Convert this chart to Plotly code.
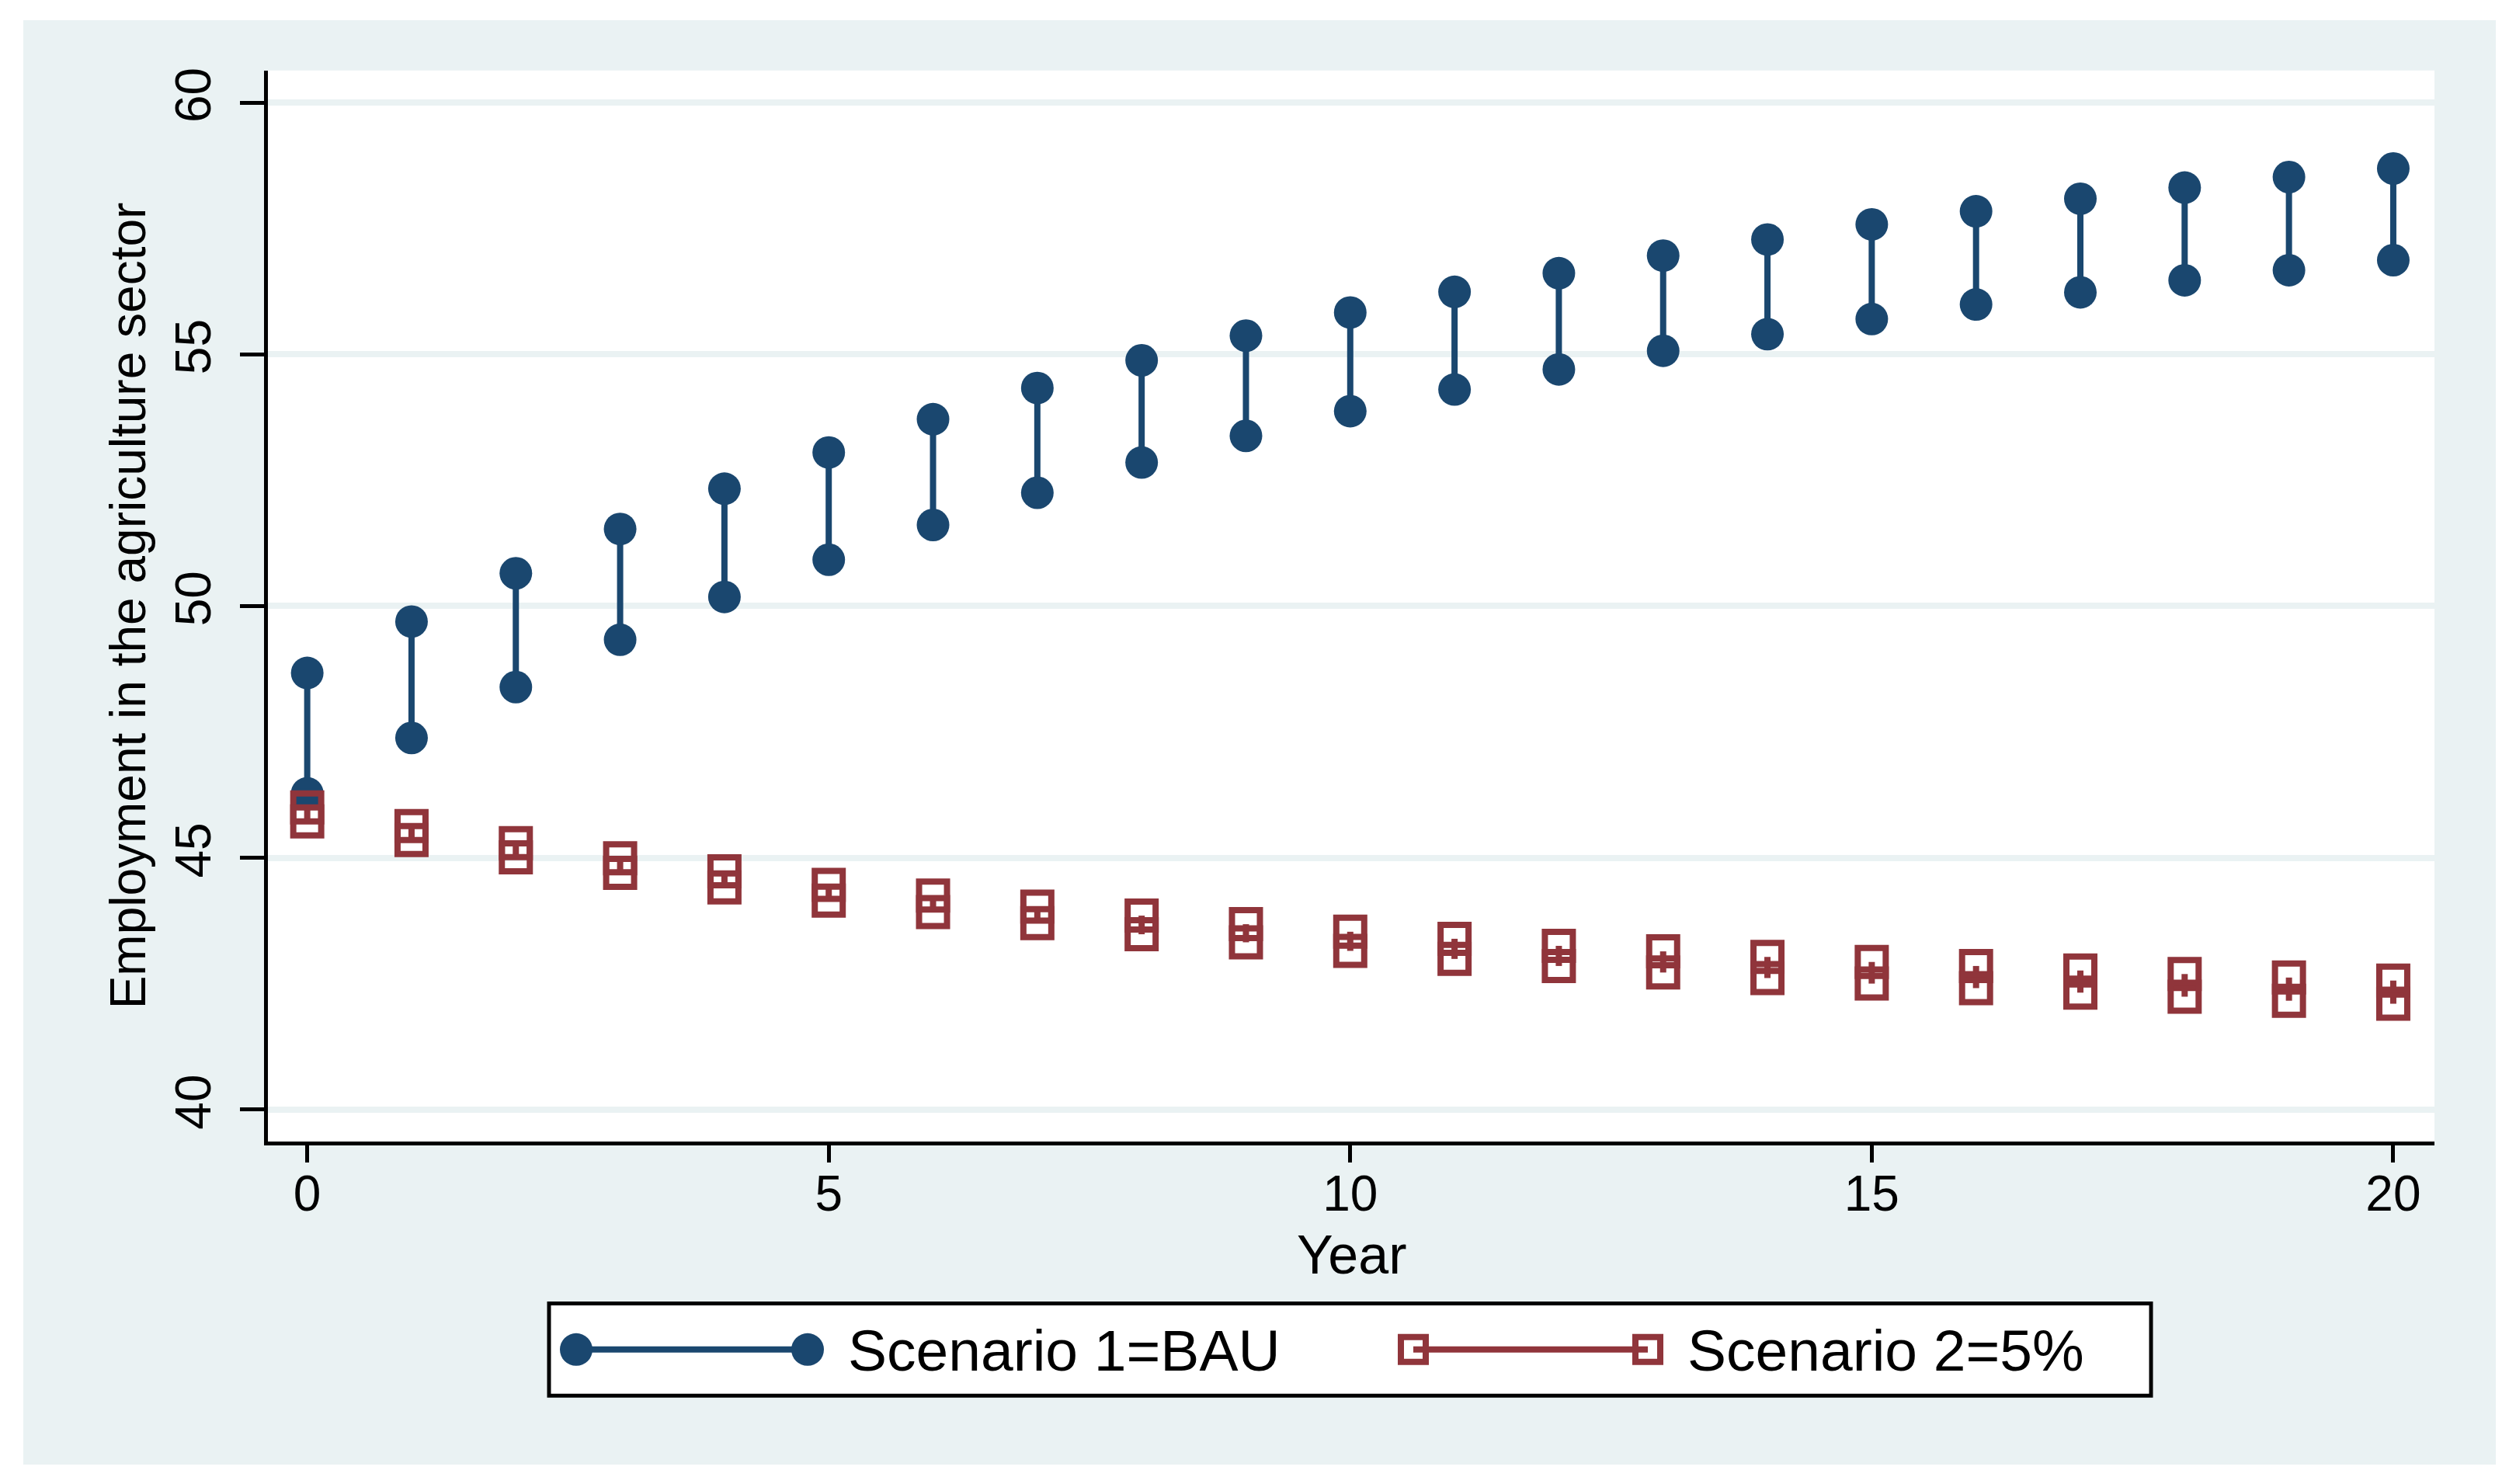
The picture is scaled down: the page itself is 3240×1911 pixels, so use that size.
import plotly.graph_objects as go

# ---------------- data ----------------
years = list(range(21))
bau_upper = [48.67, 49.69, 50.65, 51.53, 52.33, 53.05, 53.71, 54.33, 54.88, 55.37, 55.83,
             56.24, 56.61, 56.96, 57.28, 57.58, 57.84, 58.09, 58.31, 58.52, 58.69]
bau_lower = [46.28, 47.38, 48.39, 49.33, 50.18, 50.92, 51.61, 52.25, 52.85, 53.38, 53.87,
             54.30, 54.70, 55.07, 55.40, 55.70, 55.99, 56.23, 56.47, 56.67, 56.87]
s2_upper = [46.00, 45.63, 45.29, 44.99, 44.73, 44.46, 44.25, 44.03, 43.85, 43.68, 43.53,
            43.39, 43.25, 43.14, 43.03, 42.93, 42.85, 42.76, 42.69, 42.62, 42.56]
s2_lower = [45.72, 45.35, 45.01, 44.70, 44.41, 44.15, 43.92, 43.70, 43.48, 43.32, 43.15,
            42.99, 42.85, 42.72, 42.61, 42.50, 42.41, 42.32, 42.24, 42.16, 42.10]
series_names = ["Scenario 1=BAU", "Scenario 2=5%"]
x_ticks = [0, 5, 10, 15, 20]
y_ticks = [40, 45, 50, 55, 60]
x_title = "Year"
y_title = "Employment in the agriculture sector"

# ---------------- style ----------------
W, H = 3240, 1911
BLUE = "#1A476F"
RED = "#90353B"
BG = "#EAF2F3"
FONT = "Liberation Sans, Arial, sans-serif"


def fx(px):
    return px / W


def fy(py):
    return 1 - py / H


# plot area in pixels
PL, PR, PT, PB = 345, 3135, 87, 1469
# legend box in pixels
LL, LR, LT, LB = 707, 2770, 1678, 1797


def ranges(xs, up, lo):
    X, Y = [], []
    for x, u, l in zip(xs, up, lo):
        X += [x, x, None]
        Y += [u, l, None]
    return X, Y


fig = go.Figure()

bx, by = ranges(years, bau_upper, bau_lower)
fig.add_trace(go.Scatter(
    x=bx, y=by, mode="lines+markers", name=series_names[0],
    line=dict(color=BLUE, width=8),
    marker=dict(symbol="circle", size=42, color=BLUE, line=dict(width=0)),
    showlegend=False, connectgaps=False,
))
rx, ry = ranges(years, s2_upper, s2_lower)
fig.add_trace(go.Scatter(
    x=rx, y=ry, mode="lines+markers", name=series_names[1],
    line=dict(color=RED, width=8),
    marker=dict(symbol="square-open", size=36, color=RED, line=dict(width=8, color=RED)),
    showlegend=False, connectgaps=False,
))

# legend samples (in a small helper subplot occupying the legend box)
fig.add_trace(go.Scatter(
    x=[742, 1040], y=[0, 0], mode="lines+markers", xaxis="x2", yaxis="y2",
    line=dict(color=BLUE, width=8),
    marker=dict(symbol="circle", size=42, color=BLUE, line=dict(width=0)),
    showlegend=False, hoverinfo="skip",
))
fig.add_trace(go.Scatter(
    x=[1820, 2122], y=[0, 0], mode="lines+markers", xaxis="x2", yaxis="y2",
    line=dict(color=RED, width=8),
    marker=dict(symbol="square-open", size=32, color=RED, line=dict(width=8, color=RED)),
    showlegend=False, hoverinfo="skip",
))

shapes = [
    dict(type="rect", xref="paper", yref="paper", x0=fx(30), x1=fx(3214), y0=fy(1886), y1=fy(22),
         fillcolor=BG, line=dict(width=0), layer="below"),
    dict(type="rect", xref="paper", yref="paper", x0=fx(PL), x1=fx(PR), y0=fy(PB), y1=fy(PT),
         fillcolor="white", line=dict(width=0), layer="below"),
    dict(type="rect", xref="paper", yref="paper", x0=fx(LL), x1=fx(LR), y0=fy(LB), y1=fy(LT),
         fillcolor="white", line=dict(color="black", width=5), layer="below"),
]

annotations = [
    dict(text=x_title, xref="paper", yref="paper", x=fx((PL + PR) / 2), y=fy(1615),
         showarrow=False, xanchor="center", yanchor="middle", font=dict(size=70, color="black", family=FONT)),
    dict(text=y_title, xref="paper", yref="paper", x=fx(165), y=fy((PT + PB) / 2),
         showarrow=False, textangle=-90, xanchor="center", yanchor="middle",
         font=dict(size=64, color="black", family=FONT)),
    dict(text=series_names[0], xref="paper", yref="paper", x=fx(1090), y=fy(1739),
         showarrow=False, xanchor="left", yanchor="middle", font=dict(size=75, color="black", family=FONT)),
    dict(text=series_names[1], xref="paper", yref="paper", x=fx(2171), y=fy(1739),
         showarrow=False, xanchor="left", yanchor="middle", font=dict(size=75, color="black", family=FONT)),
]

fig.update_layout(
    width=W, height=H,
    margin=dict(l=0, r=0, t=0, b=0),
    paper_bgcolor="white", plot_bgcolor="white",
    font=dict(family=FONT, color="black"),
    showlegend=False,
    shapes=shapes, annotations=annotations,
    xaxis=dict(
        domain=[fx(PL), fx(PR)], range=[-0.377, 20.395],
        tickvals=x_ticks, ticktext=[str(v) for v in x_ticks],
        ticks="outside", ticklen=22, tickwidth=5, tickcolor="black",
        showline=True, linewidth=5, linecolor="black",
        showgrid=False, zeroline=False,
        tickfont=dict(size=64, family=FONT, color="black"),
        ticklabelstandoff=-15,
        anchor="y",
    ),
    yaxis=dict(
        domain=[fy(PB), fy(PT)], range=[39.364, 60.636],
        tickvals=y_ticks, ticktext=[str(v) for v in y_ticks],
        ticks="outside", ticklen=31, tickwidth=5, tickcolor="black",
        showline=True, linewidth=5, linecolor="black",
        showgrid=True, gridcolor=BG, gridwidth=8,
        zeroline=False, tickangle=-90,
        tickfont=dict(size=64, family=FONT, color="black"),
        ticklabelstandoff=12,
        anchor="x",
    ),
    xaxis2=dict(domain=[fx(LL), fx(LR)], range=[LL, LR], visible=False, anchor="y2", fixedrange=True),
    yaxis2=dict(domain=[fy(LB), fy(LT)], range=[-1, 1], visible=False, anchor="x2", fixedrange=True),
)

fig.write_html("out.html", config={"displayModeBar": False},
               post_script="document.body.style.margin='0';document.body.style.padding='0';")
